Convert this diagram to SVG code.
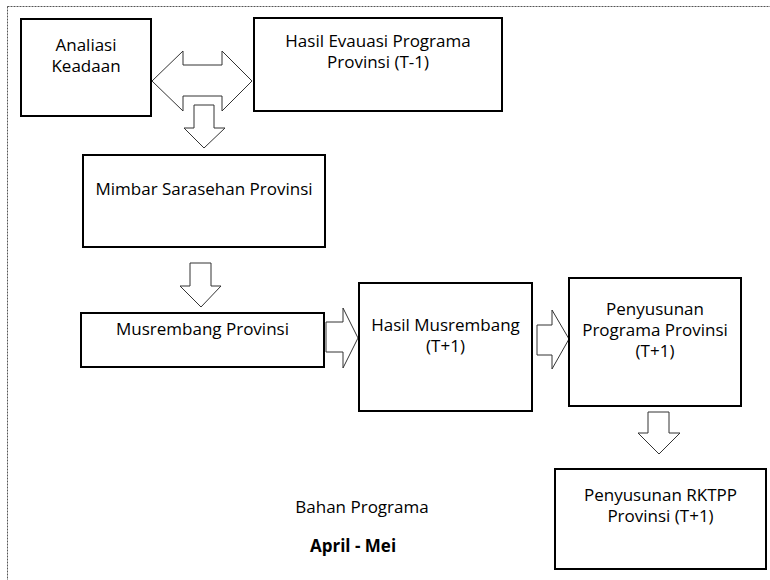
<svg xmlns="http://www.w3.org/2000/svg" width="770" height="580" viewBox="0 0 770 580">
<style>
.box{fill:#fff;stroke:#000;stroke-width:2}
.arr{fill:#fff;stroke:#333;stroke-width:1}
text{font-family:"Open Sans","Noto Sans","DejaVu Sans",sans-serif;font-size:17px;fill:#000;text-anchor:middle}
.b{font-weight:bold}
</style>
<rect width="770" height="580" fill="#fff"/>
<rect x="7.5" y="6.5" width="800" height="620" fill="none" stroke="#555" stroke-width="1" stroke-dasharray="2 1"/>
<g id="connectors">
<path class="arr" d="M152,81 L183,51 L183,65 L222,65 L222,51 L252,81 L222,111 L222,96 L183,96 L183,111 Z"/>
<path class="arr" d="M194,105 L214,105 L214,128 L225,128 L204,148 L184,128 L194,128 Z"/>
<path class="arr" d="M190,263 L211,263 L211,286 L221,286 L201,307 L180,286 L190,286 Z"/>
<path class="arr" d="M326,322 L343,322 L343,308 L358,338 L343,368 L343,352 L326,352 Z"/>
<path class="arr" d="M537,325 L552,325 L552,310 L569,339 L552,369 L552,355 L537,355 Z"/>
<path class="arr" d="M648,412 L669,412 L669,433 L680,433 L659,454 L638,433 L648,433 Z"/>
</g>
<g id="analiasi">
<rect class="box" x="21" y="19" width="130" height="97"/>
<text x="86" y="51">Analiasi</text>
<text x="86" y="72">Keadaan</text>
</g>
<g id="hasil-evaluasi">
<rect class="box" x="254" y="18" width="248" height="93"/>
<text x="378" y="47">Hasil Evauasi Programa</text>
<text x="378" y="68">Provinsi (T-1)</text>
</g>
<g id="mimbar">
<rect class="box" x="83" y="155" width="242" height="92"/>
<text x="204" y="195">Mimbar Sarasehan Provinsi</text>
</g>
<g id="musrembang">
<rect class="box" x="81" y="313" width="243" height="54"/>
<text x="202.5" y="335">Musrembang Provinsi</text>
</g>
<g id="hasil-musrembang">
<rect class="box" x="359" y="283" width="173" height="128"/>
<text x="445.5" y="331">Hasil Musrembang</text>
<text x="445.5" y="352">(T+1)</text>
</g>
<g id="penyusunan-programa">
<rect class="box" x="569" y="278" width="172" height="128"/>
<text x="655" y="315">Penyusunan</text>
<text x="655" y="336">Programa Provinsi</text>
<text x="655" y="357">(T+1)</text>
</g>
<g id="rktpp">
<rect class="box" x="555" y="469" width="211" height="100"/>
<text x="660.5" y="501">Penyusunan RKTPP</text>
<text x="660.5" y="522">Provinsi (T+1)</text>
</g>
<g id="bahan">
<text x="362" y="513">Bahan Programa</text>
<text class="b" x="353" y="552">April - Mei</text>
</g>
</svg>
